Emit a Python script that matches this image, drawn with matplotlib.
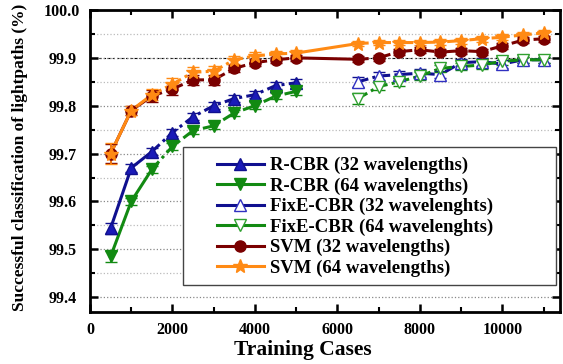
import numpy as np
import matplotlib.pyplot as plt
from matplotlib.lines import Line2D
from matplotlib.patches import Rectangle

plt.rcParams['font.family'] = ['Liberation Serif', 'DejaVu Serif']
plt.rcParams['font.weight'] = 'bold'
plt.rcParams['axes.labelweight'] = 'bold'

# -----------------------------
# Data
# -----------------------------
x_rcbr = [500, 1000, 1500, 2000, 2500, 3000, 3500, 4000, 4500, 5000]
x_fixe = [6500, 7000, 7500, 8000, 8500, 9000, 9500, 10000, 10500, 11000]
x_svm = x_rcbr + x_fixe

rcbr32 = [99.544, 99.670, 99.704, 99.744, 99.777, 99.800, 99.815, 99.823, 99.842, 99.848]
rcbr64 = [99.485, 99.600, 99.667, 99.715, 99.748, 99.758, 99.785, 99.800, 99.820, 99.830]
fixe32 = [99.850, 99.862, 99.865, 99.868, 99.865, 99.890, 99.892, 99.887, 99.896, 99.896]
fixe64 = [99.815, 99.840, 99.850, 99.862, 99.878, 99.882, 99.885, 99.893, 99.896, 99.896]
svm32 = [99.700, 99.790, 99.820, 99.835, 99.854, 99.854, 99.878, 99.890, 99.896, 99.900,
         99.897, 99.900, 99.913, 99.917, 99.912, 99.915, 99.913, 99.925, 99.937, 99.940]
svm64 = [99.700, 99.790, 99.823, 99.845, 99.870, 99.872, 99.896, 99.904, 99.908, 99.910,
         99.930, 99.932, 99.932, 99.932, 99.933, 99.936, 99.940, 99.943, 99.948, 99.952]

err_rcbr32 = [0.012, 0.008, 0.008, 0.008, 0.007, 0.007, 0.007, 0.007, 0.007, 0.007]
err_rcbr64 = [0.012, 0.008, 0.008, 0.008, 0.007, 0.007, 0.007, 0.007, 0.007, 0.007]
err_fixe32 = [0.010, 0.008, 0.008, 0.008, 0.008, 0.008, 0.008, 0.008, 0.006, 0.006]
err_fixe64 = [0.012, 0.008, 0.008, 0.008, 0.008, 0.008, 0.008, 0.008, 0.006, 0.006]
err_svm32 = [0.020, 0.010, 0.012, 0.012, 0.010, 0.010, 0.008, 0.008, 0.006, 0.006,
             0.006, 0.006, 0.006, 0.006, 0.006, 0.006, 0.006, 0.006, 0.006, 0.006]
err_svm64 = [0.022, 0.010, 0.012, 0.012, 0.010, 0.010, 0.008, 0.008, 0.006, 0.006,
             0.006, 0.006, 0.006, 0.006, 0.006, 0.006, 0.006, 0.006, 0.006, 0.006]

labels = ['R-CBR (32 wavelengths)', 'R-CBR (64 wavelengths)',
          'FixE-CBR (32 wavelenghts)', 'FixE-CBR (64 wavelenghts)',
          'SVM (32 wavelengths)', 'SVM (64 wavelengths)']

blue = '#10108f'
blue_m = '#1a1ab8'
green = '#128a12'
dred = '#7a0000'
orange = '#ff8a14'

dashdot = (0, (3.5, 1.4, 1.0, 1.4))

# -----------------------------
# Figure
# -----------------------------
fig = plt.figure(figsize=(5.63, 3.64), dpi=100)
ax = fig.add_axes([90 / 563, 52 / 364, 470 / 563, 302 / 364])

series = [
    (x_rcbr, rcbr32, err_rcbr32, blue, '^', blue_m, blue, 8, False),
    (x_rcbr, rcbr64, err_rcbr64, green, 'v', green, green, 8, False),
    (x_fixe, fixe32, err_fixe32, blue, '^', 'white', '#3030c0', 8.5, False),
    (x_fixe, fixe64, err_fixe64, green, 'v', 'white', '#30a030', 8.5, False),
    (x_svm, svm32, err_svm32, dred, 'o', dred, dred, 8, True),
    (x_svm, svm64, err_svm64, orange, '*', orange, orange, 10.5, True),
]

handles = []
for (xs, ys, es, col, mk, mfc, mec, ms, gap), lab in zip(series, labels):
    xs = np.array(xs)
    ys = np.array(ys)
    # solid steep start (or single segment), dash-dot afterwards
    if xs[0] < 1000:
        ax.plot(xs[:3], ys[:3], color=col, lw=2.2, zorder=2)
        ax.plot(xs[2:10], ys[2:10], color=col, lw=2.2, ls=dashdot, zorder=2)
    else:
        ax.plot(xs, ys, color=col, lw=2.2, ls=dashdot, zorder=2)
    if gap:
        ax.plot(xs[9:11], ys[9:11], color=col, lw=2.2, zorder=2)
        ax.plot(xs[10:], ys[10:], color=col, lw=2.2, ls=dashdot, zorder=2)
    ax.errorbar(xs, ys, yerr=es, fmt=mk, ms=ms, mfc=mfc, mec=mec, mew=1.0,
                ecolor=col, elinewidth=1.2, capsize=4.3, capthick=1.2, zorder=3)
    handles.append(Line2D([], [], color=col, lw=2.2, marker=mk, ms=ms,
                          mfc=mfc, mec=mec, mew=1.0))

ax.axhline(99.9, color='black', lw=0.8, ls=(0, (2, 2)), zorder=1)

ax.set_xlim(0, 11400)
ax.set_ylim(99.369, 100.0)
ax.set_xticks(np.arange(0, 10001, 2000))
ax.set_xticks(np.arange(1000, 11001, 2000), minor=True)
ax.set_yticks(np.round(np.arange(99.4, 100.01, 0.1), 1))
ax.set_yticks(np.arange(99.45, 100.0, 0.1), minor=True)
ax.set_yticklabels(['%.1f' % v for v in np.arange(99.4, 100.01, 0.1)])

ax.grid(True, axis='y', which='major', color='#888888', ls=':', lw=0.9, zorder=0)
ax.grid(True, axis='y', which='minor', color='#bbbbbb', ls=':', lw=0.9, zorder=0)

ax.tick_params(which='both', direction='in', top=True, right=True, labelsize=11.5)
ax.tick_params(which='major', length=6, width=1.8)
ax.tick_params(which='minor', length=3.5, width=1.5)
ax.tick_params(axis='y', pad=20)
ax.tick_params(axis='x', pad=7)
for lbl in ax.get_yticklabels():
    lbl.set_ha('center')
for s in ax.spines.values():
    s.set_linewidth(2)

ax.set_xlabel('Training Cases', fontsize=15.5)
ax.xaxis.set_label_coords(0.453, -0.093)
ax.set_ylabel('Successful classification of lightpaths (%)', fontsize=12.5)
ax.yaxis.set_label_coords(-0.132, 0.513)

# legend box and entries
frame = Rectangle((183 / 563, 1 - 285 / 364), (556 - 183) / 563, 138 / 364,
                  transform=fig.transFigure, facecolor='white', edgecolor='#444444',
                  lw=1.0, zorder=8, clip_on=False)
ax.add_patch(frame)
leg = ax.legend(handles, labels, loc='upper left',
                bbox_to_anchor=(217 / 563, 1 - 157 / 364), bbox_transform=fig.transFigure,
                frameon=False, prop={'weight': 'bold', 'size': 13.5}, borderpad=0,
                handlelength=2.5, handletextpad=0.35, labelspacing=0.17,
                borderaxespad=0)
leg.set_zorder(10)

fig.savefig('out.png', dpi=100)
